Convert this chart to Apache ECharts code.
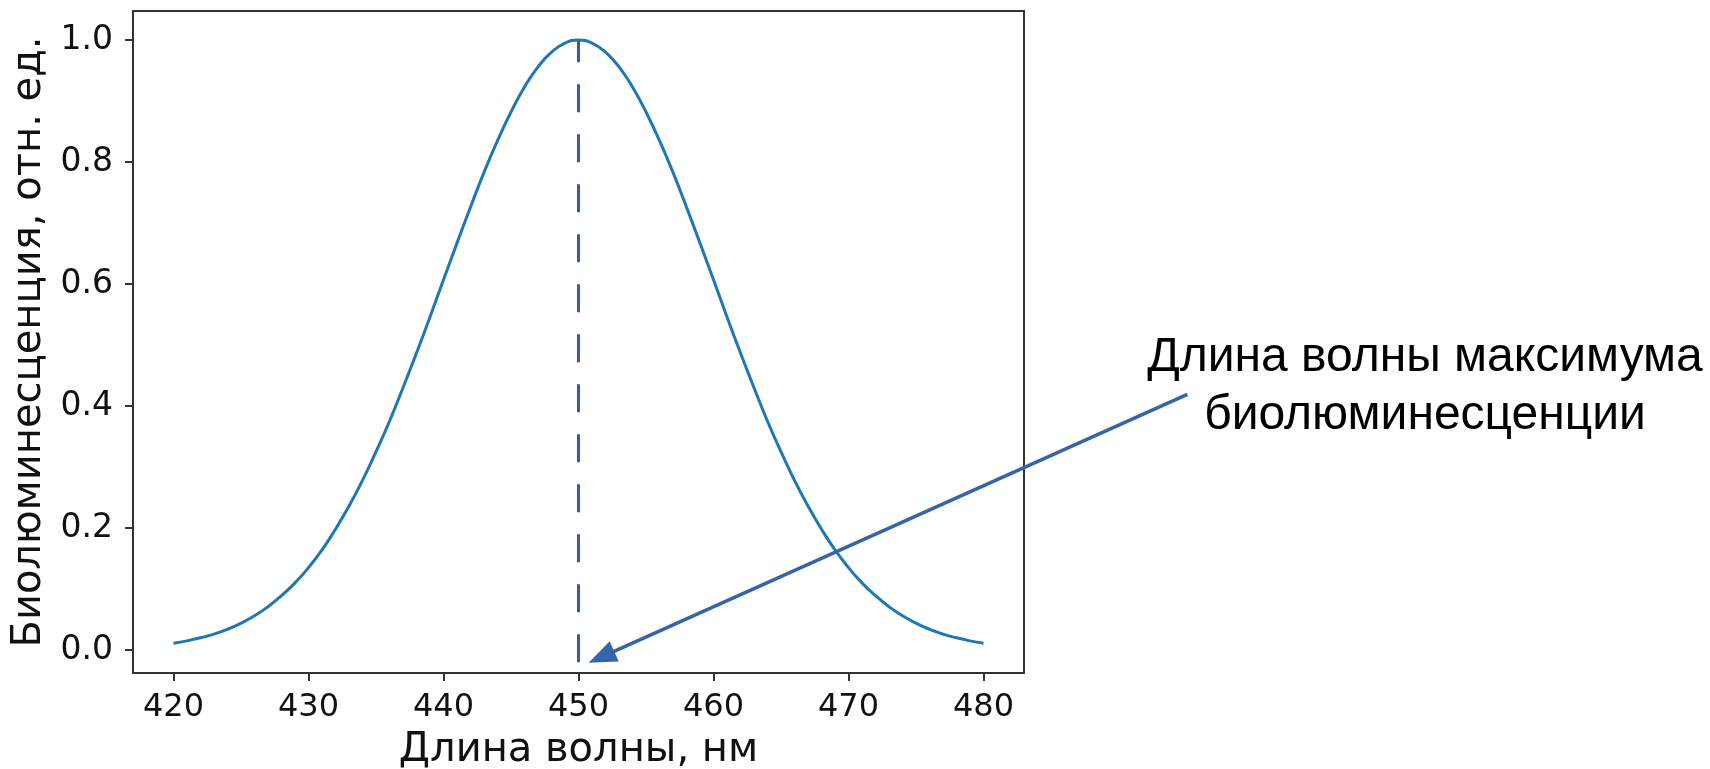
<!DOCTYPE html>
<html>
<head>
<meta charset="utf-8">
<script src="https://cdn.jsdelivr.net/npm/echarts@6/dist/echarts.min.js"></script>
<style>
html,body{margin:0;padding:0;background:#fff;}
#chart{width:1710px;height:769px;}
</style>
</head>
<body>
<div id="chart"></div>
<script>
// ---- data ----
const wavelengths = [420,421,422,423,424,425,426,427,428,429,430,431,432,433,434,435,436,437,438,439,440,441,442,443,444,445,446,447,448,449,450,451,452,453,454,455,456,457,458,459,460,461,462,463,464,465,466,467,468,469,470,471,472,473,474,475,476,477,478,479,480];
const intensity   = [0.011,0.015,0.020,0.026,0.034,0.044,0.056,0.071,0.089,0.110,0.135,0.164,0.198,0.236,0.278,0.325,0.375,0.430,0.487,0.546,0.607,0.667,0.726,0.783,0.835,0.882,0.923,0.956,0.980,0.995,1.000,0.995,0.980,0.956,0.923,0.882,0.835,0.783,0.726,0.667,0.607,0.546,0.487,0.430,0.375,0.325,0.278,0.236,0.198,0.164,0.135,0.110,0.089,0.071,0.056,0.044,0.034,0.026,0.020,0.015,0.011];
const xTickValues = [420,430,440,450,460,470,480];
const yTickValues = [0.0,0.2,0.4,0.6,0.8,1.0];
const peakX = [450, 450];
const peakY = [-0.02, 1.0];
const arrowFrom = [495.1, 0.419];
const arrowTo = [450.75, -0.021];
const annotationLines = ['Длина волны максимума', 'биолюминесценции'];
const xName = 'Длина волны, нм';
const yName = 'Биолюминесценция, отн. ед.';

const curveData = wavelengths.map((w, i) => [w, intensity[i]]);
const peakData = peakX.map((x, i) => [x, peakY[i]]);

const chart = echarts.init(document.getElementById('chart'));
const tickFont = {fontFamily: 'DejaVu Sans', color: '#111'};
chart.setOption({
  backgroundColor: '#fff',
  animation: false,
  grid: {left: 133, right: 686, top: 11, bottom: 96, outerBoundsMode: 'none', containLabel: false, show: true, borderColor: '#333', borderWidth: 2, backgroundColor: 'transparent'},
  xAxis: {
    type: 'value', min: 417, max: 483,
    name: xName, nameLocation: 'middle', nameGap: 58,
    nameTextStyle: {fontFamily: 'DejaVu Sans', fontSize: 40, color: '#111'},
    axisLine: {show: true, onZero: false, lineStyle: {color: '#333', width: 2}},
    axisTick: {show: true, customValues: xTickValues, length: 8, lineStyle: {color: '#333', width: 2}},
    axisLabel: {customValues: xTickValues, margin: 19, fontSize: 32, ...tickFont},
    splitLine: {show: false}
  },
  yAxis: {
    type: 'value', min: -0.0377, max: 1.0475,
    name: yName, nameLocation: 'middle', nameGap: 82, nameRotate: 90,
    nameTextStyle: {fontFamily: 'DejaVu Sans', fontSize: 40, color: '#111'},
    axisLine: {show: true, onZero: false, lineStyle: {color: '#333', width: 2}},
    axisTick: {show: true, customValues: yTickValues, length: 8, lineStyle: {color: '#333', width: 2}},
    axisLabel: {customValues: yTickValues, margin: 20, fontSize: 33, ...tickFont, formatter: v => v.toFixed(1)},
    splitLine: {show: false}
  },
  series: [
    {type: 'line', data: curveData, smooth: true, showSymbol: false, lineStyle: {color: '#1f77b4', width: 3}, z: 3},
    {type: 'line', data: peakData, showSymbol: false, lineStyle: {color: '#3a5a9e', width: 3, type: [28, 22]}, z: 2}
  ]
});

function drawAnnotations() {
  const p1 = chart.convertToPixel({gridIndex: 0}, arrowFrom);
  const p2 = chart.convertToPixel({gridIndex: 0}, arrowTo);
  const dx = p2[0] - p1[0], dy = p2[1] - p1[1];
  const len = Math.sqrt(dx * dx + dy * dy);
  const ux = dx / len, uy = dy / len;
  const headLen = 28, headHalf = 11;
  const bx = p2[0] - ux * headLen, by = p2[1] - uy * headLen;
  const nx = -uy, ny = ux;
  chart.setOption({
    graphic: [
      {type: 'line', shape: {x1: p1[0], y1: p1[1], x2: bx + ux * 2, y2: by + uy * 2}, style: {stroke: '#3465a8', lineWidth: 3.5}, z: 10},
      {type: 'polygon', shape: {points: [[p2[0], p2[1]], [bx + nx * headHalf, by + ny * headHalf], [bx - nx * headHalf, by - ny * headHalf]]}, style: {fill: '#3465a8'}, z: 10},
      {type: 'text', x: 1425, y: 358, style: {text: annotationLines[0], font: '48px "Liberation Sans", Arial, sans-serif', fill: '#000', textAlign: 'center', textVerticalAlign: 'middle'}, z: 10},
      {type: 'text', x: 1425, y: 416, style: {text: annotationLines[1], font: '48px "Liberation Sans", Arial, sans-serif', fill: '#000', textAlign: 'center', textVerticalAlign: 'middle'}, z: 10}
    ]
  });
}
drawAnnotations();
</script>
</body>
</html>
